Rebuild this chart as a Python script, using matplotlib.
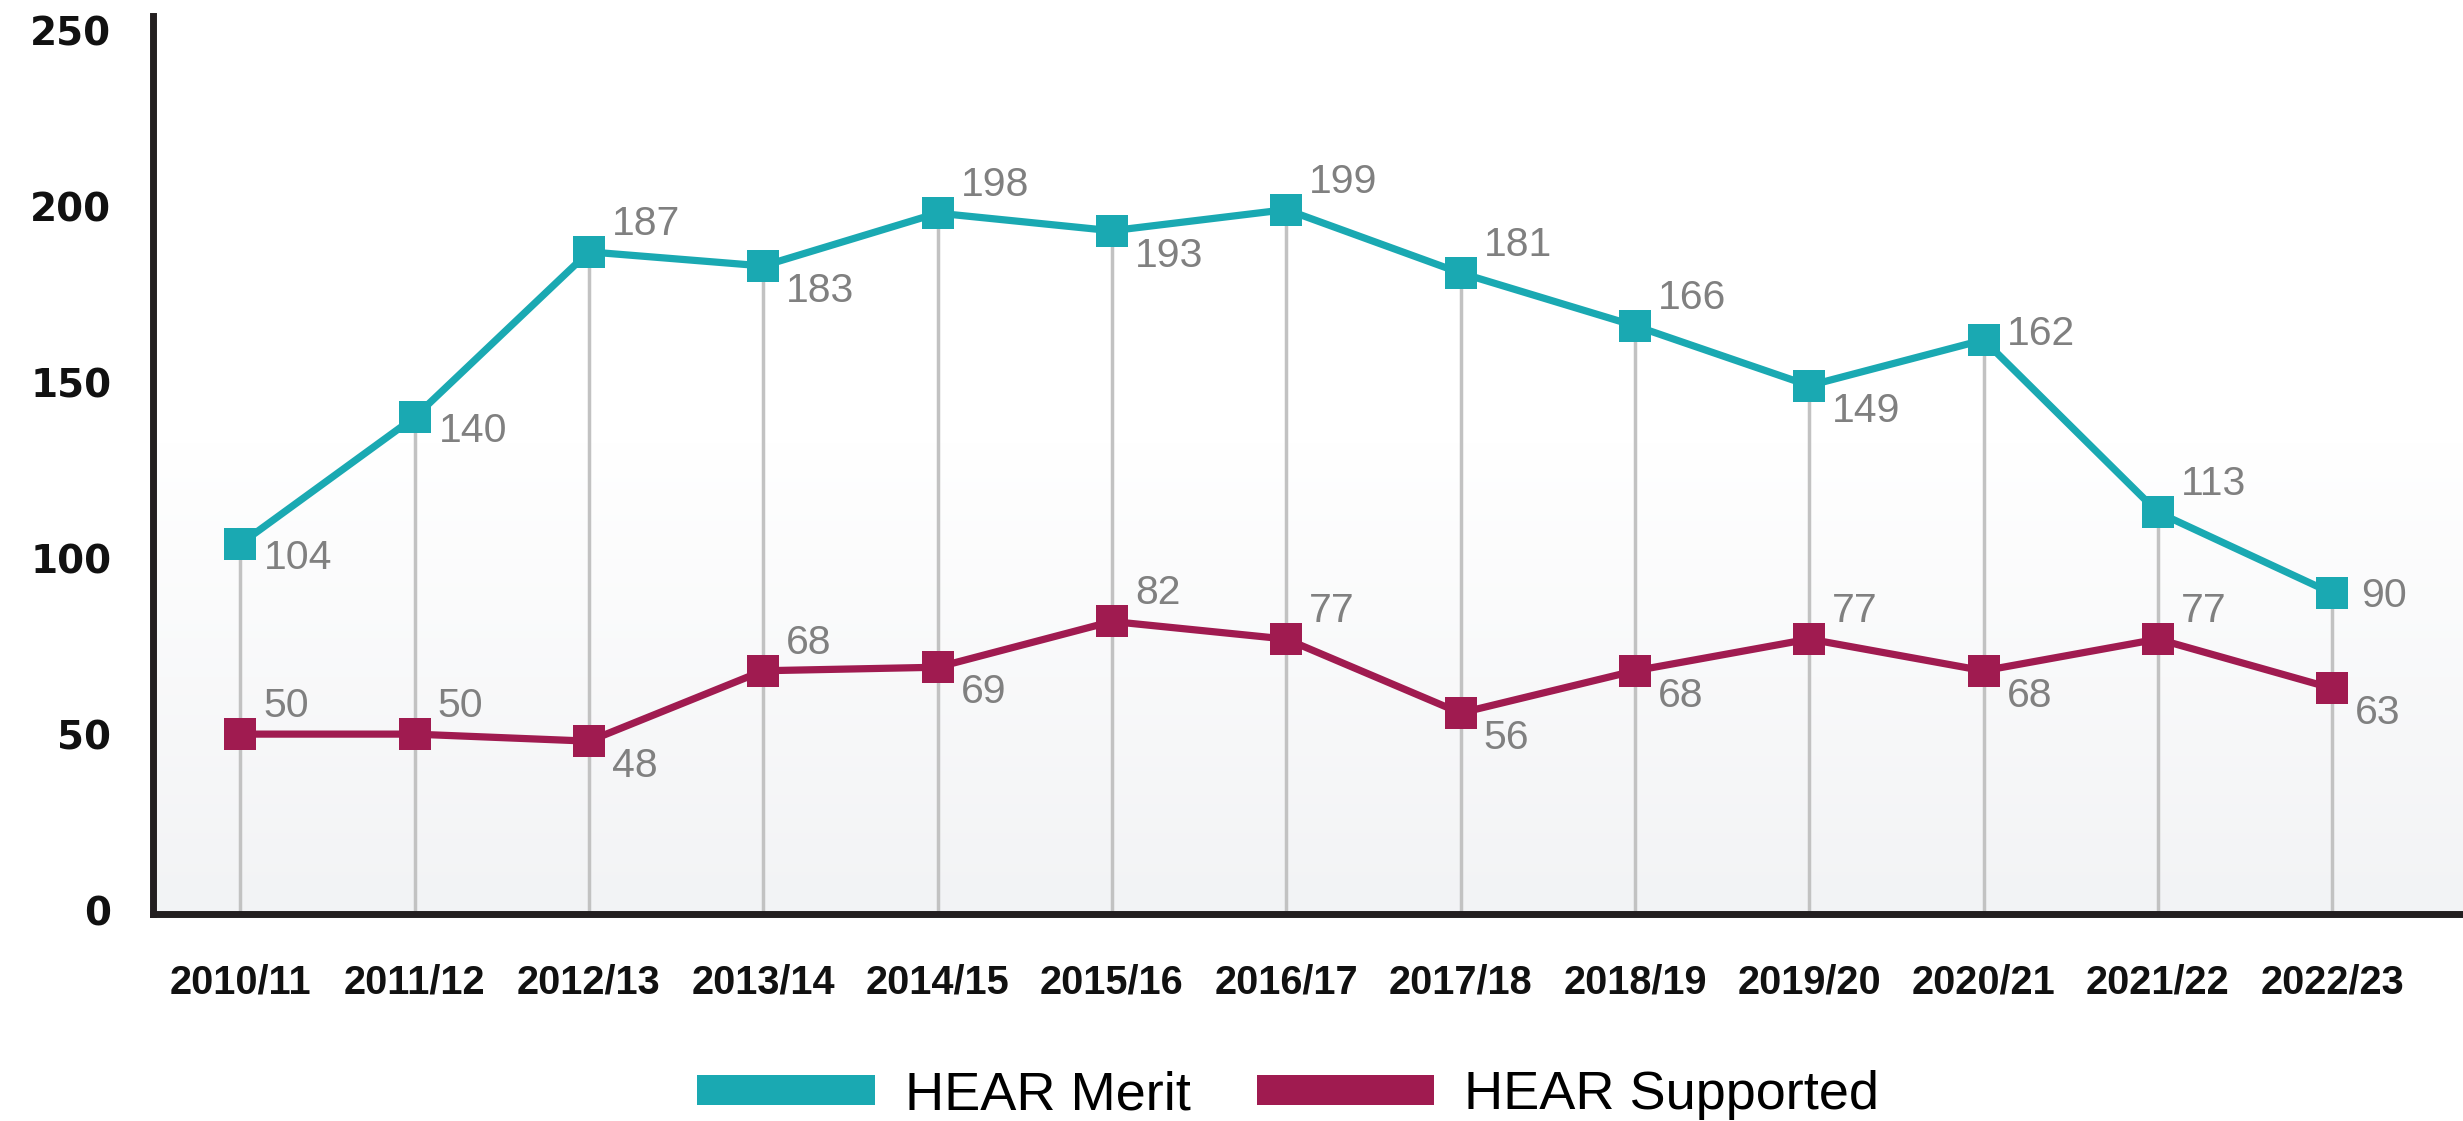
import matplotlib

matplotlib.use("Agg")
import matplotlib.pyplot as plt  # noqa: E402
import numpy as np
from matplotlib.colors import LinearSegmentedColormap
from matplotlib.patches import Patch

years = ["2010/11", "2011/12", "2012/13", "2013/14", "2014/15", "2015/16", "2016/17",
         "2017/18", "2018/19", "2019/20", "2020/21", "2021/22", "2022/23"]
hear_merit = [104, 140, 187, 183, 198, 193, 199, 181, 166, 149, 162, 113, 90]
hear_supported = [50, 50, 48, 68, 69, 82, 77, 56, 68, 77, 68, 77, 63]
y_ticks = [0, 50, 100, 150, 200, 250]

# where each value label sits relative to its marker
merit_place = ["below_near", "below_near", "above", "below", "above", "below", "above",
               "above", "above", "below", "right_up", "above", "right"]
supported_place = ["above", "above", "below", "above", "below", "above", "above",
                   "below", "below", "above", "below", "above", "below"]
offsets = {
    "above": (23, 28),
    "below": (23, -25),
    "below_near": (24, -14),
    "right": (29, -3),
    "right_up": (23, 6),
}

TEAL = "#1aa9b2"
MAROON = "#a01b50"
SPINE = "#231f20"
LABEL_GREY = "#808080"

fig = plt.figure(figsize=(24.63, 11.21), dpi=100)
ax = fig.add_axes([153 / 2463, 207 / 1121, (2463 - 153) / 2463, 898 / 1121])
x = np.arange(len(years))
xlim = (-0.5, 12.75)
ylim = (-1.1, 254)

# soft background gradient: white at top, pale grey at bottom
cmap = LinearSegmentedColormap.from_list("bg", ["#f2f3f5", "#ffffff"])
grad = np.clip(np.linspace(0, 1, 256) * 1.9, 0, 1).reshape(-1, 1)
ax.imshow(grad, extent=[*xlim, *ylim], origin="lower", aspect="auto", cmap=cmap,
          zorder=0, interpolation="bilinear")

ax.vlines(x, ylim[0], hear_merit, color="#c2c2c2", lw=2.5, zorder=1)
ax.plot(x, hear_supported, color=MAROON, lw=5.2, marker="s", markersize=23,
        markeredgewidth=0, zorder=3)
ax.plot(x, hear_merit, color=TEAL, lw=5.2, marker="s", markersize=23,
        markeredgewidth=0, zorder=4)

for vals, places in ((hear_merit, merit_place), (hear_supported, supported_place)):
    for xi, v, p in zip(x, vals, places):
        ax.annotate(str(v), (xi, v), xytext=offsets[p], textcoords="offset pixels",
                    ha="left", va="center", fontsize=29.5, color=LABEL_GREY,
                    family="Liberation Sans", zorder=5)

ax.set_xlim(*xlim)
ax.set_ylim(*ylim)
ax.set_xticks(x)
ax.set_xticklabels(years, fontsize=28.5, fontweight="bold", family="Liberation Sans",
                   color="#111111")
ax.set_yticks(y_ticks)
ax.set_yticklabels([str(t) for t in y_ticks], fontsize=28, fontweight="bold",
                   family="DejaVu Sans", color="#111111")
ax.tick_params(axis="both", length=0)
ax.tick_params(axis="y", pad=30)
ax.tick_params(axis="x", pad=36)
for side in ("top", "right"):
    ax.spines[side].set_visible(False)
for side in ("left", "bottom"):
    ax.spines[side].set_linewidth(5)
    ax.spines[side].set_color(SPINE)

handles = [Patch(facecolor=TEAL, edgecolor="none"), Patch(facecolor=MAROON, edgecolor="none")]
fig.legend(handles, ["HEAR Merit", "HEAR Supported"], loc="center",
           bbox_to_anchor=(0.523, 0.023), ncol=2, frameon=False,
           prop={"family": "Liberation Sans", "size": 39},
           handlelength=3.28, handleheight=0.46, handletextpad=0.55,
           columnspacing=1.22)

fig.savefig("out.png", dpi=100)
plt.close(fig)
